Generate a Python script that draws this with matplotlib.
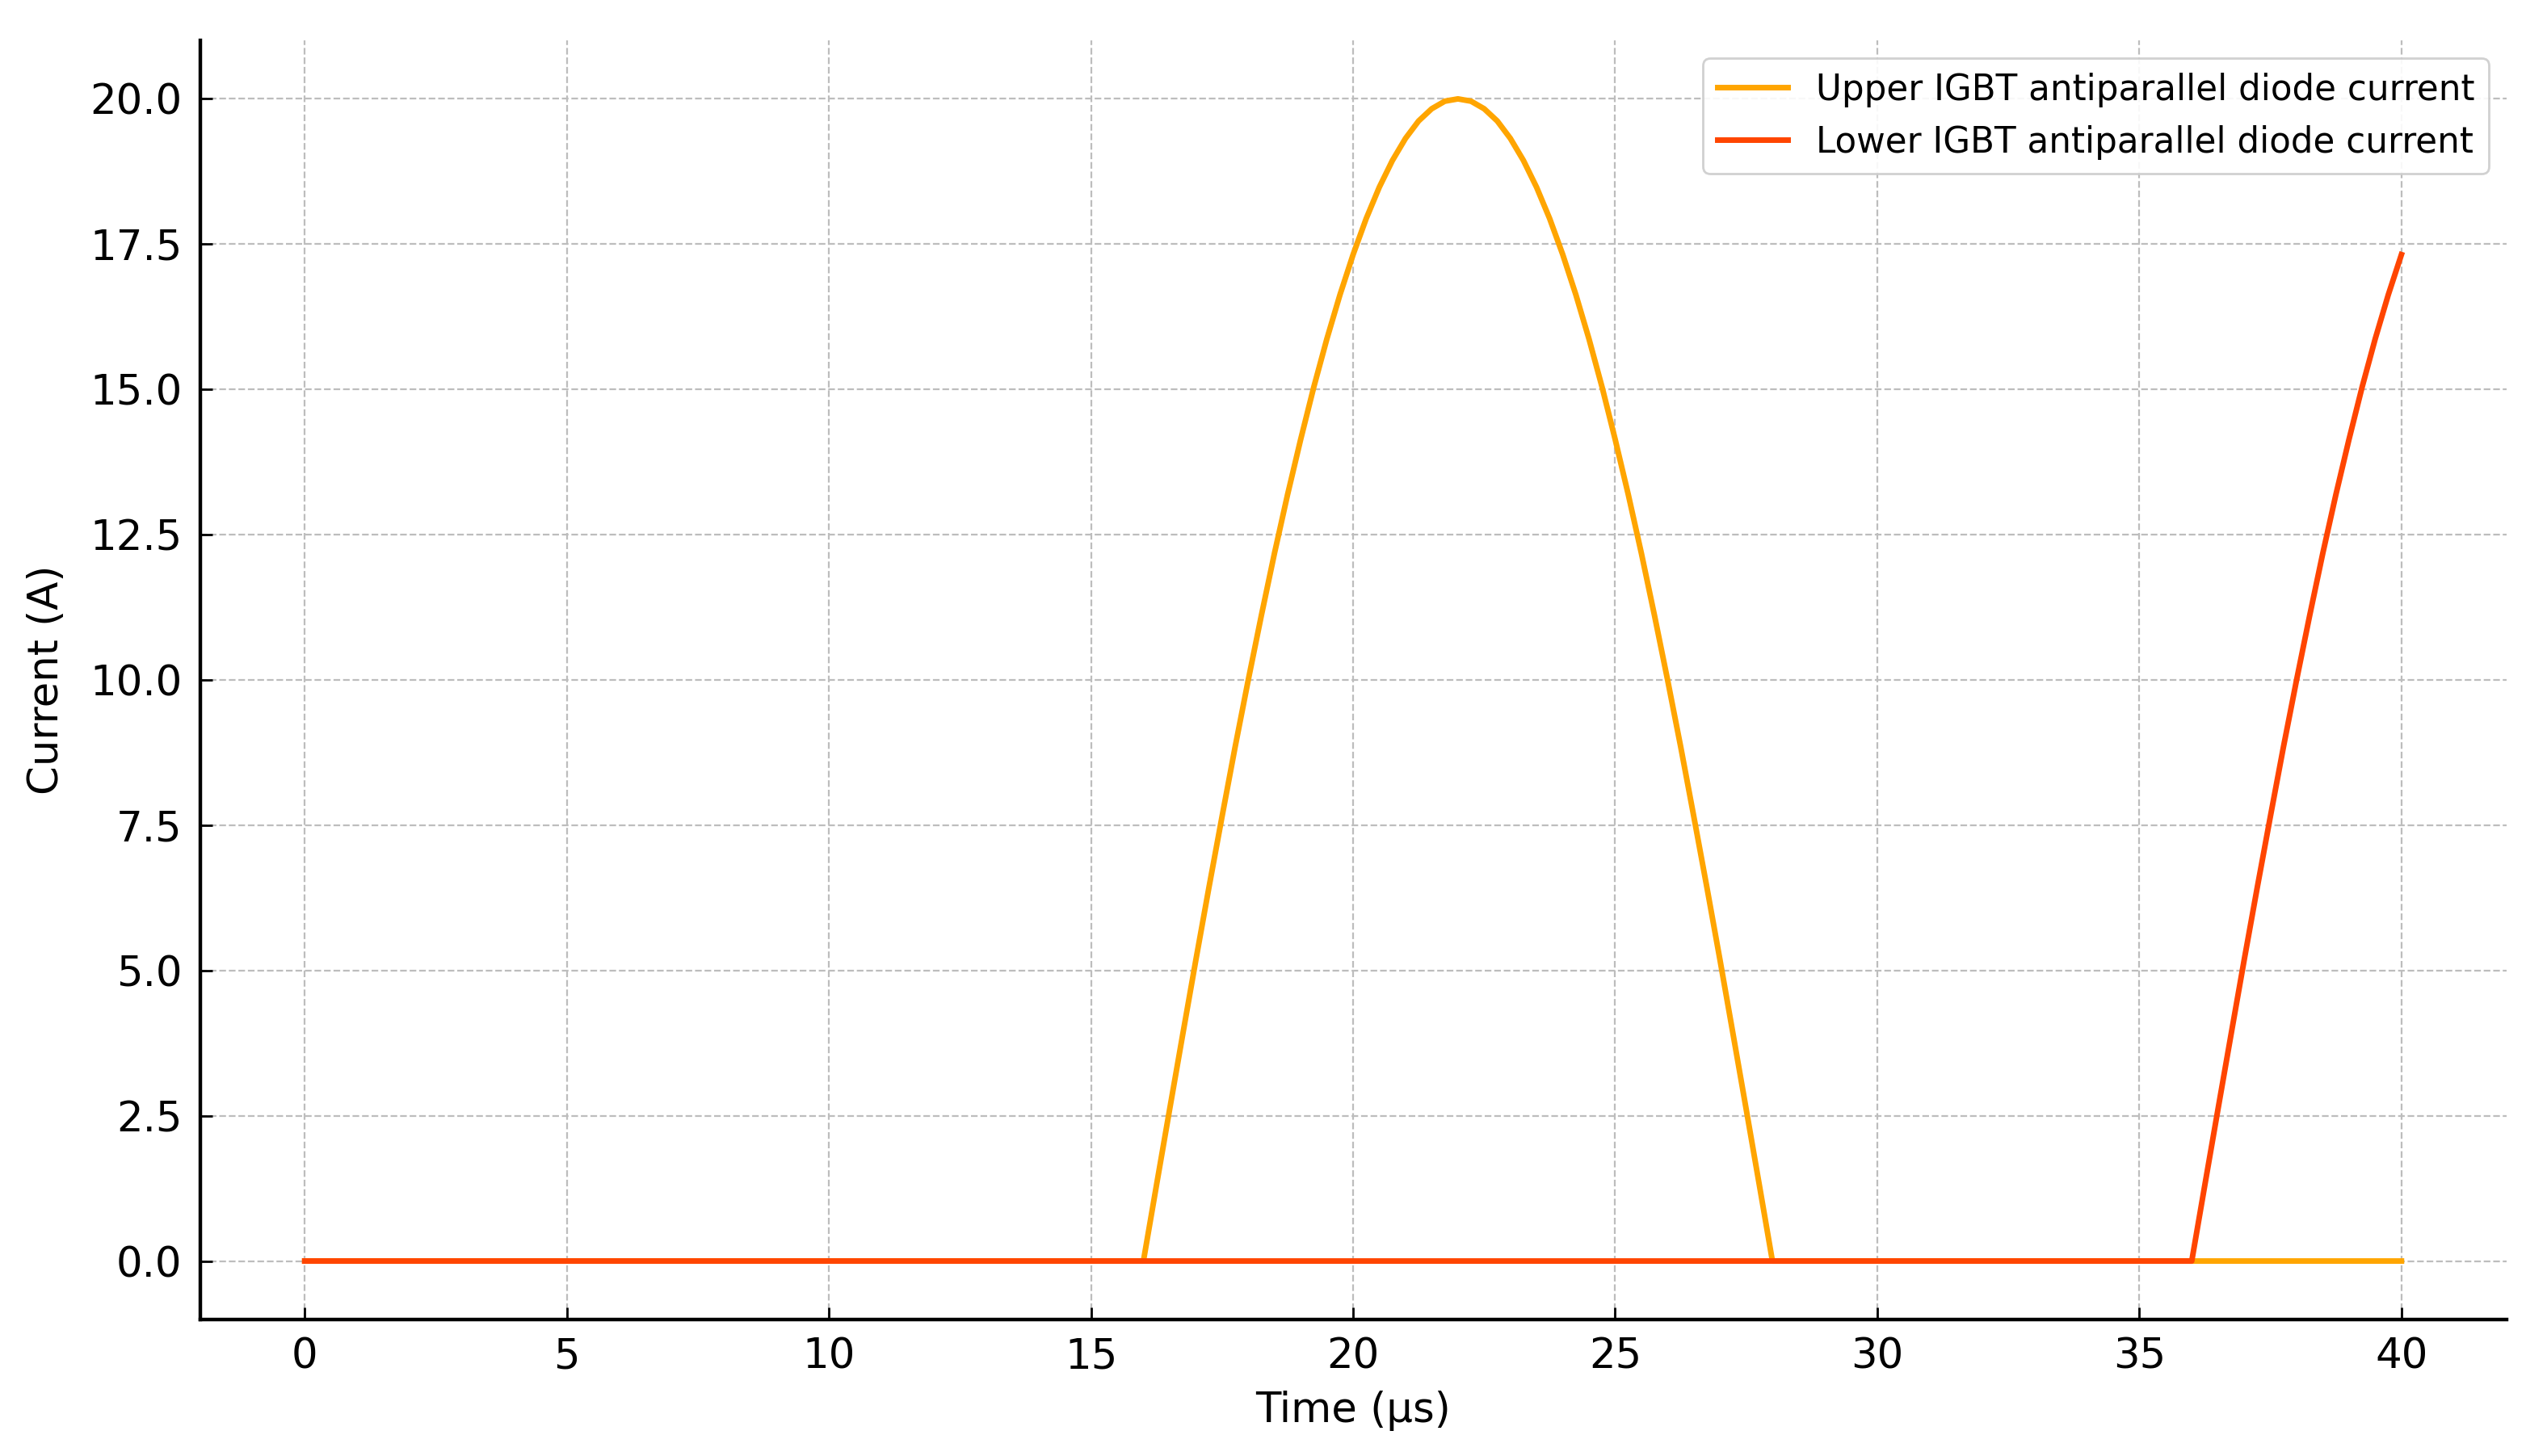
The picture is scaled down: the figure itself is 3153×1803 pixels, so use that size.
import matplotlib
matplotlib.use("Agg")
import matplotlib.pyplot as plt

# Time samples (µs) and currents (A)
upper_time = [0, 16.0, 16.25, 16.5, 16.75, 17.0, 17.25, 17.5, 17.75, 18.0, 18.25, 18.5, 18.75,
              19.0, 19.25, 19.5, 19.75, 20.0, 20.25, 20.5, 20.75, 21.0, 21.25, 21.5, 21.75,
              22.0, 22.25, 22.5, 22.75, 23.0, 23.25, 23.5, 23.75, 24.0, 24.25, 24.5, 24.75,
              25.0, 25.25, 25.5, 25.75, 26.0, 26.25, 26.5, 26.75, 27.0, 27.25, 27.5, 27.75,
              28.0, 40]
upper_current = [0, 0.00, 1.31, 2.61, 3.90, 5.18, 6.43, 7.65, 8.85, 10.00, 11.11, 12.18, 13.19,
                 14.14, 15.04, 15.87, 16.63, 17.32, 17.94, 18.48, 18.94, 19.32, 19.62, 19.83, 19.96,
                 20.00, 19.96, 19.83, 19.62, 19.32, 18.94, 18.48, 17.94, 17.32, 16.63, 15.87, 15.04,
                 14.14, 13.19, 12.18, 11.11, 10.00, 8.85, 7.65, 6.43, 5.18, 3.90, 2.61, 1.31,
                 0.00, 0]

lower_time = [0, 36.0, 36.25, 36.5, 36.75, 37.0, 37.25, 37.5, 37.75, 38.0, 38.25, 38.5, 38.75,
              39.0, 39.25, 39.5, 39.75, 40.0]
lower_current = [0, 0.00, 1.31, 2.61, 3.90, 5.18, 6.43, 7.65, 8.85, 10.00, 11.11, 12.18, 13.19,
                 14.14, 15.04, 15.87, 16.63, 17.32]

labels = ["Upper IGBT antiparallel diode current", "Lower IGBT antiparallel diode current"]
x_label = "Time (µs)"
y_label = "Current (A)"

plt.rcParams['font.family'] = ['DejaVu Sans']

fig = plt.figure(figsize=(15.765, 9.015), dpi=200)
ax = fig.add_axes([0.0785, 0.094, 0.9055, 0.878])

ax.plot(upper_time, upper_current, color='#FFA500', linewidth=2.5, label=labels[0])
ax.plot(lower_time, lower_current, color='#FF4500', linewidth=2.5, label=labels[1])

ax.set_xlim(-2, 42)
ax.set_ylim(-1, 21)
ax.set_xticks(range(0, 41, 5))
ax.set_yticks([0, 2.5, 5, 7.5, 10, 12.5, 15, 17.5, 20])
ax.set_yticklabels([f"{v:.1f}" for v in [0, 2.5, 5, 7.5, 10, 12.5, 15, 17.5, 20]])

ax.grid(True, color='#bdbdbd', linestyle='--', linewidth=0.8)
ax.set_axisbelow(True)

for side in ['top', 'right']:
    ax.spines[side].set_visible(False)
for side in ['left', 'bottom']:
    ax.spines[side].set_linewidth(1.6)
    ax.spines[side].set_color('black')

ax.tick_params(axis='both', direction='in', length=5.5, width=1.0, labelsize=18.5, pad=8)

ax.set_xlabel(x_label, fontsize=18.5, labelpad=6)
ax.set_ylabel(y_label, fontsize=18.5, labelpad=10)

ax.legend(loc='upper right', fontsize=15.7, frameon=True, fancybox=True,
          edgecolor='#cccccc', framealpha=0.9, handlelength=2.0)

fig.savefig("out.png", dpi=200)
